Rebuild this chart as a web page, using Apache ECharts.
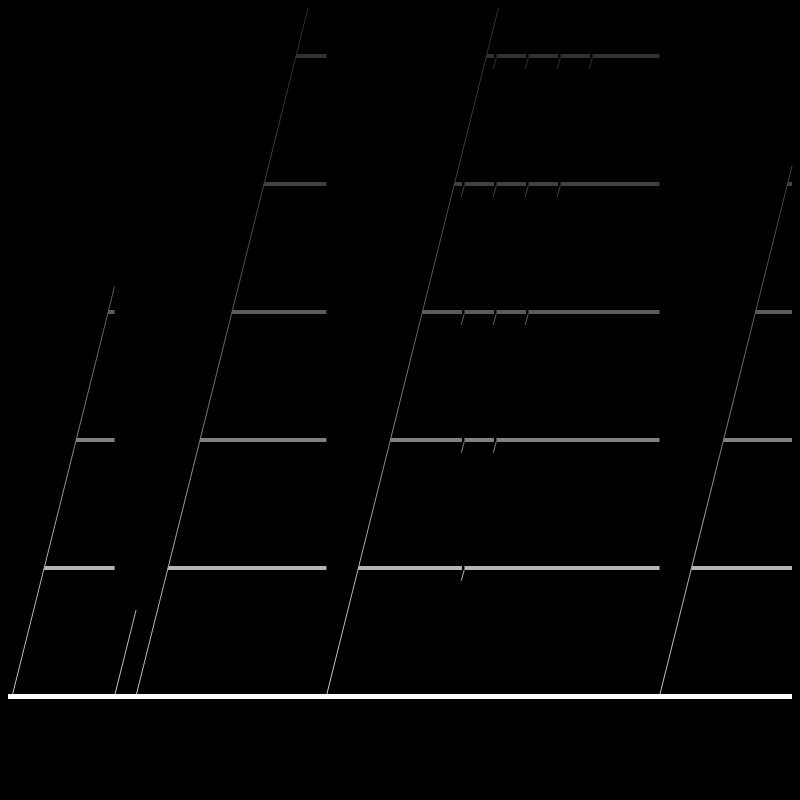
<!DOCTYPE html>
<html>
<head>
<meta charset="utf-8">
<script src="https://cdn.jsdelivr.net/npm/echarts@6/dist/echarts.min.js"></script>
<style>html,body{margin:0;padding:0;background:#000}#c{width:800px;height:800px}</style>
</head>
<body>
<div id="c"></div>
<script>
// Sawtooth curve (x, value)
const sawX = [0, 0.13, 3.33, 3.33, 4.0, 4.0, 9.95, 9.95, 20.36, 20.36, 24.5];
const sawY = [0, 0, 3.2, 0, 0.67, 0, 5.95, 0, 10.41, 0, 4.14];
// Grid levels and their line colours
const levels = [1, 2, 3, 4, 5];
const levelColors = ['#b4b4b4', '#808080', '#5c5c5c', '#404040', '#303030'];
// Small seam marks: [x, level]
const tickPoints = [
  [14.25, 1],
  [14.25, 2], [15.25, 2],
  [14.25, 3], [15.25, 3], [16.25, 3],
  [14.25, 4], [15.25, 4], [16.25, 4], [17.25, 4],
  [15.25, 5], [16.25, 5], [17.25, 5], [18.25, 5]
];
const xMax = 24.5;
const yMax = 5.375;

const sawData = sawX.map((x, i) => [x, sawY[i]]);

const GAP = '-';
const edgeData = [];
for (let i = 0; i < sawX.length - 1; i++) {
  if (sawY[i + 1] > sawY[i] && sawX[i + 1] > sawX[i]) {
    edgeData.push([sawX[i], sawY[i]], [sawX[i + 1], sawY[i + 1]], [sawX[i + 1], GAP]);
  }
}
const tickData = [];
const gapData = [];
tickPoints.forEach(([x, L]) => {
  tickData.push([x - 0.085, L - 0.1], [x + 0.005, L - 0.017], [x, GAP]);
  gapData.push([x - 0.025, L - 0.022], [x - 0.025, L + 0.022], [x, GAP]);
});

const grad = {
  type: 'linear', x: 0, y: 696, x2: 0, y2: 8, global: true,
  colorStops: [
    { offset: 0, color: '#c4c4c4' },
    { offset: 0.186, color: '#b0b0b0' },
    { offset: 0.372, color: '#808080' },
    { offset: 0.558, color: '#5c5c5c' },
    { offset: 0.744, color: '#404040' },
    { offset: 0.93, color: '#303030' },
    { offset: 1, color: '#2c2c2c' }
  ]
};

const chart = echarts.init(document.getElementById('c'), null, { renderer: 'canvas' });
chart.setOption({
  backgroundColor: '#000',
  animation: false,
  grid: { left: 8, right: 8, top: 8, bottom: 104, containLabel: false },
  xAxis: {
    type: 'value', min: 0, max: xMax, z: 10,
    axisLine: { show: true, onZero: false, lineStyle: { color: '#ffffff', width: 5, cap: 'butt' } },
    axisTick: { show: false }, axisLabel: { show: false }, splitLine: { show: false }
  },
  yAxis: {
    type: 'value', min: 0, max: yMax, interval: 1,
    axisLine: { show: false }, axisTick: { show: false }, axisLabel: { show: false },
    splitLine: {
      show: true, showMinLine: false, showMaxLine: false,
      lineStyle: { color: levelColors, width: 4, cap: 'butt' }
    }
  },
  series: [
    {
      type: 'line', data: sawData, symbol: 'none', silent: true, z: 2,
      lineStyle: { width: 0, opacity: 0 },
      areaStyle: { color: '#000', opacity: 1, origin: 'end' }
    },
    {
      type: 'line', data: gapData, symbol: 'none', silent: true, z: 3, connectNulls: false,
      lineStyle: { color: '#000', width: 2.5 }
    },
    {
      type: 'line', data: edgeData.concat(tickData), symbol: 'none', silent: true, z: 4, connectNulls: false,
      lineStyle: { color: grad, width: 1 }
    }
  ]
});
</script>
</body>
</html>
